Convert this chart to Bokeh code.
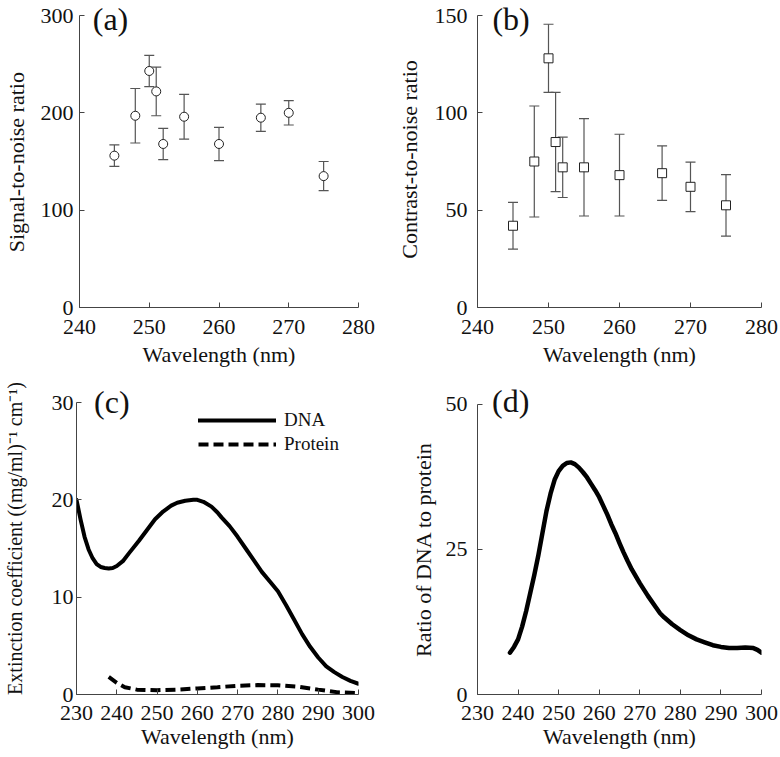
from bokeh.plotting import figure
from bokeh.models import ColumnDataSource, Whisker, TeeHead, Range1d, FixedTicker, Label
from bokeh.layouts import column, row
from bokeh.embed import file_html
from bokeh.resources import INLINE

FONT = "Liberation Serif"
NB = "\u00a0"  # non-breaking space, pads the far end of a vertical label to re-centre it

# ---------------- data ----------------
# (a) and (b): measured ratios with error bars
wavelength_ab = [245, 248, 250, 251, 252, 255, 260, 266, 270, 275]
snr = [156, 197, 243, 222, 168, 196, 168, 195, 200, 135]
snr_err = [11, 28, 16, 25, 16, 23, 17, 14, 12.5, 15]
cnr = [42, 75, 128, 85, 72, 72, 68, 69, 62, 52.5]
cnr_err = [12, 28.5, 17.5, 25.5, 15.5, 25, 21, 14, 12.7, 15.8]

# (c): extinction coefficients
wl_dna = [230, 231, 232, 233, 234, 235, 236, 237, 238, 239, 240, 241.5, 243, 245.5,
          247.5, 249.5, 251.5, 253.5, 255, 257, 259, 260, 261.5, 263.5, 265, 266,
          268, 270, 272, 274, 276, 278, 280, 282, 284, 286, 288, 290, 292, 294,
          296, 298, 300]
ext_dna = [20.0, 18.0, 16.2, 14.9, 14.0, 13.4, 13.1, 13.0, 12.95, 13.0, 13.2, 13.7,
           14.5, 15.8, 16.9, 18.0, 18.8, 19.4, 19.7, 19.9, 20.0, 20.0, 19.8, 19.3,
           18.7, 18.2, 17.3, 16.2, 15.0, 13.8, 12.6, 11.6, 10.6, 9.2, 7.7, 6.2, 4.9,
           3.8, 2.9, 2.3, 1.8, 1.4, 1.1]
wl_protein = [238, 240, 242, 245, 250, 255, 260, 265, 270, 275, 280, 285, 290, 295, 300]
ext_protein = [1.8, 1.2, 0.75, 0.5, 0.44, 0.5, 0.62, 0.75, 0.9, 0.97, 0.95, 0.8, 0.5, 0.22, 0.15]

# (d): ratio of DNA to protein
wl_ratio = [238, 239, 240, 241, 242, 243, 244, 245, 246, 247, 248, 249, 250, 251, 252,
            253, 254, 255, 256, 257, 258, 259, 260, 261, 262, 263, 264, 265, 266, 267,
            268, 270, 272, 274, 275, 276, 278, 280, 282, 284, 286, 288, 290, 292, 294,
            296, 298, 299, 300]
ratio = [7.2, 8.2, 9.5, 11.7, 14.4, 17.5, 20.6, 24.0, 27.8, 31.6, 34.6, 37.0, 38.5,
         39.4, 39.9, 40.0, 39.7, 39.1, 38.3, 37.4, 36.3, 35.2, 34.0, 32.5, 31.0, 29.3,
         27.8, 26.1, 24.5, 23.0, 21.6, 19.2, 17.0, 15.0, 14.0, 13.3, 12.1, 11.1, 10.2,
         9.5, 9.0, 8.5, 8.2, 8.0, 8.0, 8.1, 8.0, 7.7, 7.2]

# axis ticks
x_ticks_ab = [240, 250, 260, 270, 280]
x_ticks_cd = [230, 240, 250, 260, 270, 280, 290, 300]
y_ticks_a = [0, 100, 200, 300]
y_ticks_b = [0, 50, 100, 150]
y_ticks_c = [0, 10, 20, 30]
y_ticks_d = [0, 25, 50]

AX = "#444444"
TXT = "#111111"


def make_fig(w, h, bl, br, bt, bb, frame_px, axis_px, xr, yt, xt, xlabel, ylabel,
             ylab_standoff, ylab_axis_standoff, xlab_standoff, xlab_axis_standoff,
             ylabel_size="22px"):
    # the frame is a little taller than the drawn axis so the panel letter fits inside it
    ymax = yt[-1]
    y_end = ymax * frame_px / axis_px
    p = figure(width=w, height=h, x_range=Range1d(*xr), y_range=Range1d(0, y_end),
               output_backend="svg", toolbar_location=None,
               min_border_left=bl, min_border_right=br,
               min_border_top=bt, min_border_bottom=bb)
    p.outline_line_color = None
    p.xgrid.visible = False
    p.ygrid.visible = False
    for ax in (p.xaxis[0], p.yaxis[0]):
        ax.axis_line_color = AX
        ax.major_tick_line_color = AX
        ax.major_tick_in = 5
        ax.major_tick_out = 0
        ax.minor_tick_line_color = None
        ax.major_label_text_font = FONT
        ax.major_label_text_font_size = "22px"
        ax.major_label_text_color = TXT
        ax.axis_label_text_font = FONT
        ax.axis_label_text_font_style = "normal"
        ax.axis_label_text_color = TXT
    p.yaxis[0].bounds = (0, ymax)
    p.xaxis[0].ticker = FixedTicker(ticks=xt)
    p.yaxis[0].ticker = FixedTicker(ticks=yt)
    p.xaxis[0].axis_label = xlabel
    p.yaxis[0].axis_label = ylabel
    p.xaxis[0].axis_label_text_font_size = "22px"
    p.yaxis[0].axis_label_text_font_size = ylabel_size
    p.xaxis[0].major_label_standoff = xlab_standoff
    p.xaxis[0].axis_label_standoff = xlab_axis_standoff
    p.yaxis[0].major_label_standoff = ylab_standoff
    p.yaxis[0].axis_label_standoff = ylab_axis_standoff
    return p


def panel_label(p, text, x, y):
    p.add_layout(Label(x=x, y=y, text=text, text_font=FONT, text_font_size="32px",
                       text_color=TXT, text_align="left", text_baseline="top"))


def error_panel(p, xs, ys, errs, marker):
    src = ColumnDataSource(dict(
        x=xs, y=ys,
        upper=[v + e for v, e in zip(ys, errs)],
        lower=[v - e for v, e in zip(ys, errs)]))
    ec = "#555555"
    p.add_layout(Whisker(source=src, base="x", upper="upper", lower="lower",
                         dimension="height", line_color=ec, line_width=1.2,
                         upper_head=TeeHead(size=10, line_color=ec, line_width=1.2),
                         lower_head=TeeHead(size=10, line_color=ec, line_width=1.2)))
    p.scatter("x", "y", source=src, marker=marker, size=9, fill_color="white",
              line_color="#222222", line_width=1)


# (a)
pa = make_fig(390, 380, 73, 32, 0, 73, 307, 292, (240, 280), y_ticks_a, x_ticks_ab,
              "Wavelength (nm)", "Signal-to-noise ratio" + NB * 3, 6, 9, 12, 5)
error_panel(pa, wavelength_ab, snr, snr_err, "circle")
panel_label(pa, "(a)", 241.9, 314.4)

# (b)
pb = make_fig(389, 380, 87, 18, 0, 73, 307, 292, (240, 280), y_ticks_b, x_ticks_ab,
              "Wavelength (nm)", "Contrast-to-noise ratio" + NB * 2, 10, 10, 12, 5)
error_panel(pb, wavelength_ab, cnr, cnr_err, "square")
panel_label(pb, "(b)", 242.1, 157.2)

# (c)
pc = make_fig(390, 376, 73, 32, 2, 62, 312, 292, (230, 300), y_ticks_c, x_ticks_cd,
              "Wavelength (nm)", "Extinction coefficient ((mg/ml)\u207b\u00b9 cm\u207b\u00b9)",
              3, 23, 11, 1, ylabel_size="20px")
pc.line(wl_dna, ext_dna, line_color="black", line_width=4, line_join="round",
        line_cap="round", legend_label="DNA")
pc.line(wl_protein, ext_protein, line_color="black", line_width=4, line_dash="10 5",
        legend_label="Protein")
panel_label(pc, "(c)", 234.35, 31.95)
lg = pc.legend[0]
lg.location = (122, 239)
lg.border_line_color = None
lg.background_fill_alpha = 0
lg.padding = 0
lg.margin = 0
lg.spacing = 2
lg.glyph_width = 78
lg.glyph_height = 20
lg.label_height = 20
lg.label_standoff = 8
lg.label_text_font = FONT
lg.label_text_font_size = "19px"
lg.label_text_color = TXT

# (d)
pd_ = make_fig(389, 376, 87, 18, 0, 62, 314, 292, (230, 300), y_ticks_d, x_ticks_cd,
               "Wavelength (nm)", "Ratio of DNA to protein" + NB * 4, 10, 7, 11, 1)
pd_.line(wl_ratio, ratio, line_color="black", line_width=4.5, line_join="round",
         line_cap="round")
panel_label(pd_, "(d)", 233.6, 53.6)

layout = column(row(pa, pb), row(pc, pd_))

with open("out.html", "w") as f:
    f.write(file_html(layout, INLINE))
